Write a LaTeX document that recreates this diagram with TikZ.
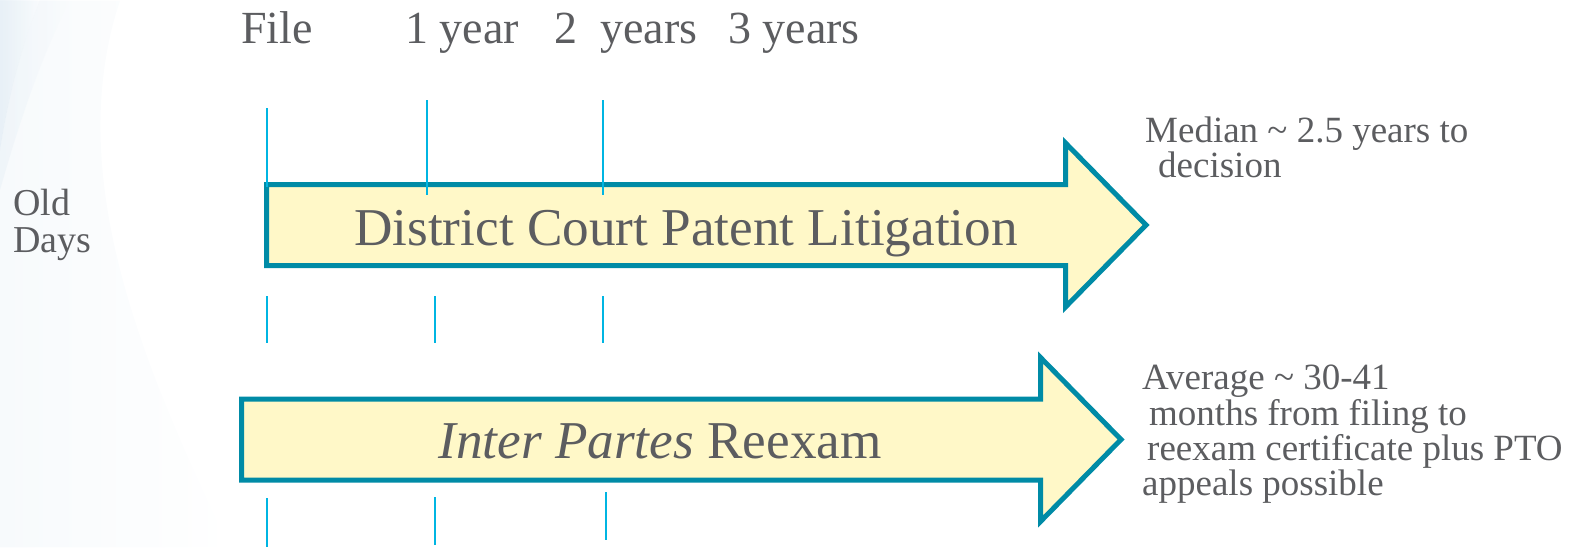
\documentclass[tikz,border=0pt]{standalone}
\usepackage{fontspec}
\setmainfont{Liberation Serif}
\usetikzlibrary{fadings}
\definecolor{arrowedge}{RGB}{0,139,166}
\definecolor{arrowfill}{RGB}{255,248,200}
\definecolor{tickc}{RGB}{0,181,226}
\definecolor{txt}{RGB}{92,93,96}
\definecolor{bgblue}{RGB}{222,234,244}
\definecolor{bgfaint}{RGB}{247,250,252}
\tikzset{
  lbl/.style={anchor=base west, inner sep=0pt, text=txt},
  toplbl/.style={lbl, font=\fontsize{46}{46}\selectfont},
  notelbl/.style={lbl, font=\fontsize{37}{35}\selectfont},
  biglbl/.style={anchor=base, inner sep=0pt, text=txt, font=\fontsize{53.2}{54}\selectfont},
  bigarrow/.style={draw=arrowedge, fill=arrowfill, line width=5pt, line join=miter, miter limit=10},
  tick/.style={draw=tickc, line width=2.3pt}
}
\begin{document}
\begin{tikzpicture}[x=1pt,y=-1pt]
\useasboundingbox (0,0) rectangle (1585,547);
% faint background swoosh
\fill[bgfaint, path fading=east] (0,0) -- (120,0) .. controls (60,180) and (150,380) .. (230,547) -- (0,547) -- cycle;
\fill[bgblue, opacity=0.6, path fading=east] (0,0) -- (40,0) .. controls (20,50) and (8,100) .. (0,150) -- cycle;
\fill[bgblue, opacity=0.3, path fading=east] (40,0) -- (70,0) .. controls (40,60) and (20,120) .. (0,190) -- (0,150) .. controls (8,100) and (20,50) .. (40,0) -- cycle;

% top labels
\node[toplbl] (file) at (241,43) {File};
\node[toplbl] (y1) at (405,43) {1 year};
\node[toplbl] (y2) at (554,43) {2};
\node[toplbl] (y2b) at (600,43) {years};
\node[toplbl] (y3) at (728,43) {3 years};

% left label
\node[lbl, font=\fontsize{38}{37}\selectfont] (old) at (13,215) {Old};
\node[lbl, font=\fontsize{38}{37}\selectfont] (days) at (13,252) {Days};

% arrow 1
\draw[bigarrow] (266.5,184.5) -- (1065.5,184.5) -- (1065.5,143) -- (1146,225)
  -- (1065.5,307) -- (1065.5,265.5) -- (266.5,265.5) -- cycle;
\node[biglbl] (dc) at (686,245) {District Court Patent Litigation};

% arrow 2
\draw[bigarrow] (241.5,399) -- (1040.5,399) -- (1040.5,357.5) -- (1121,439.5)
  -- (1040.5,521.5) -- (1040.5,480) -- (241.5,480) -- cycle;
\node[biglbl] (ip) at (660,458) {\textit{Inter Partes} Reexam};

% ticks
\draw[tick] (266.7,108) -- (266.7,187);
\draw[tick] (427,100) -- (427,195);
\draw[tick] (603,100) -- (603,195);
\draw[tick] (266.7,296) -- (266.7,343);
\draw[tick] (434.7,296) -- (434.7,343);
\draw[tick] (603,296) -- (603,343);
\draw[tick] (266.7,498) -- (266.7,547);
\draw[tick] (435,497) -- (435,545);
\draw[tick] (606,492) -- (606,540);

% notes
\node[notelbl] (m1) at (1145,142) {Median \textasciitilde{} 2.5 years to};
\node[notelbl] (m2) at (1158,177) {decision};
\node[notelbl] (a1) at (1142,389) {Average \textasciitilde{} 30-41};
\node[notelbl] (a2) at (1149,425) {months from filing to};
\node[notelbl] (a3) at (1147,460) {reexam certificate plus PTO};
\node[notelbl] (a4) at (1142,495) {appeals possible};
\end{tikzpicture}
\end{document}
